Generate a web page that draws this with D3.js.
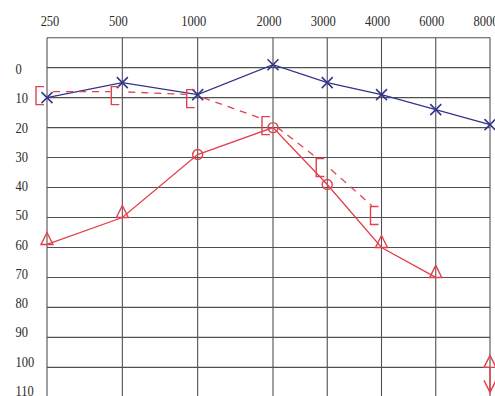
<!DOCTYPE html>
<html>
<head>
<meta charset="utf-8">
<script src="https://cdn.jsdelivr.net/npm/d3@7"></script>
<style>
  html, body { margin: 0; padding: 0; background: #fff; }
  svg { display: block; }
</style>
</head>
<body>
<svg id="chart" width="495" height="396"></svg>
<script>
// Frequencies (Hz) along the top and hearing levels (dB HL) down the side
const frequencies = ["250", "500", "1000", "2000", "3000", "4000", "6000", "8000"];
const levelTicks = [0, 10, 20, 30, 40, 50, 60, 70, 80, 90, 100, 110];
const gridLevels = [-10, 0, 10, 20, 30, 40, 50, 60, 70, 80, 90, 100, 110];

// Left ear air conduction (X), 250–8000 Hz
const leftAir = [10, 5, 9, -1, 5, 9, 14, 19];
// Right ear air conduction, 250–6000 Hz, and the symbol used at each point
const rightAir = [59, 50, 29, 20, 39, 60, 70];
const rightAirSymbols = ["triangle", "triangle", "circle", "circle", "circle", "triangle", "triangle"];
// Right ear masked bone conduction ([), 250–4000 Hz
const rightBone = [8, 8, 9, 18, 32, 48];
// No response at the limit of the audiometer
const noResponseFreq = ["8000"];
const noResponseLevel = [100];

const blue = "#32348a";
const red = "#e2404c";
const gridColor = "#505050";
const textColor = "#2a2a2a";

const svg = d3.select("#chart");

// Octaves below 2 kHz are drawn wider than the 2–8 kHz half-octave steps
const xIdx = d3.scaleLinear().domain([0, 3, 7]).range([47, 273, 490]);
const x = f => xIdx(frequencies.indexOf(f));
const y = d3.scaleLinear().domain([-10, 110]).range([37.7, 397.3]);
// Tick text sits on a slightly tighter pitch than the ruled lines
const yText = d3.scaleLinear().domain([0, 100]).range([74, 366.5]);

// Grid
const grid = svg.append("g").attr("stroke", gridColor).attr("stroke-width", 1.1);
grid.selectAll("line.v").data(frequencies).join("line")
  .attr("class", "v")
  .attr("x1", d => x(d)).attr("x2", d => x(d))
  .attr("y1", y(-10)).attr("y2", y(110));
grid.selectAll("line.h").data(gridLevels).join("line")
  .attr("class", "h")
  .attr("x1", x(frequencies[0])).attr("x2", x(frequencies[frequencies.length - 1]))
  .attr("y1", d => y(d)).attr("y2", d => y(d));

// Axis text (serif, slightly tall)
const labelFont = "'Liberation Serif', 'DejaVu Serif', serif";
svg.append("g").selectAll("text").data(frequencies).join("text")
  .attr("transform", (d, i) => `translate(${x(d) + (i === 0 ? 3 : -4)},25.5) scale(1,1.14)`)
  .attr("text-anchor", "middle")
  .attr("font-family", labelFont).attr("font-size", 12.5)
  .attr("fill", textColor)
  .text(d => d);
svg.append("g").selectAll("text").data(levelTicks).join("text")
  .attr("transform", d => `translate(15.5,${yText(d)}) scale(1,1.1)`)
  .attr("text-anchor", "start")
  .attr("font-family", labelFont).attr("font-size", 12.5)
  .attr("fill", textColor)
  .text(d => d);

// Left ear air conduction: line and X markers
const leftPts = leftAir.map((v, i) => [x(frequencies[i]), y(v)]);
svg.append("path")
  .attr("d", d3.line()(leftPts))
  .attr("fill", "none").attr("stroke", blue).attr("stroke-width", 1.2);
const xs = 5.5;
svg.append("g").selectAll("path").data(leftPts).join("path")
  .attr("d", ([px, py]) => `M${px - xs},${py - xs}L${px + xs},${py + xs}M${px + xs},${py - xs}L${px - xs},${py + xs}`)
  .attr("fill", "none").attr("stroke", blue).attr("stroke-width", 1.5);

// Right ear bone conduction: dashed joins between brackets
const bonePts = rightBone.map((v, i) => [x(frequencies[i]) - 3, y(v)]);
const gap = 9;
const boneSegs = d3.pairs(bonePts).map(([a, b]) => {
  const dx = b[0] - a[0], dy = b[1] - a[1], len = Math.hypot(dx, dy);
  const ux = dx / len, uy = dy / len;
  return [[a[0] + ux * gap, a[1] + uy * gap], [b[0] - ux * gap, b[1] - uy * gap]];
});
svg.append("g").selectAll("path").data(boneSegs).join("path")
  .attr("d", d => d3.line()(d))
  .attr("fill", "none").attr("stroke", red).attr("stroke-width", 1.3)
  .attr("stroke-dasharray", "7,6");
svg.append("g").selectAll("path").data(rightBone).join("path")
  .attr("d", (v, i) => {
    const px = x(frequencies[i]), py = y(v) + 4;
    return `M${px - 3},${py - 9}L${px - 11},${py - 9}L${px - 11},${py + 9}L${px - 3},${py + 9}`;
  })
  .attr("fill", "none").attr("stroke", red).attr("stroke-width", 1.4);

// Right ear air conduction: line and symbols
const rightPts = rightAir.map((v, i) => [x(frequencies[i]), y(v)]);
svg.append("path")
  .attr("d", d3.line()(rightPts))
  .attr("fill", "none").attr("stroke", red).attr("stroke-width", 1.3);
const tri = (px, py) => `M${px - 6},${py}L${px},${py - 12}L${px + 6},${py}Z`;
svg.append("g").selectAll("path").data(rightPts).join("path")
  .attr("d", ([px, py], i) => rightAirSymbols[i] === "triangle"
    ? tri(px, py)
    : d3.arc()({ innerRadius: 0, outerRadius: 5, startAngle: 0, endAngle: 2 * Math.PI }))
  .attr("transform", ([px, py], i) => rightAirSymbols[i] === "circle" ? `translate(${px},${py})` : null)
  .attr("fill", "none").attr("stroke", red).attr("stroke-width", 1.4);

// No response: triangle with a downward arrow
const nr = svg.append("g").attr("fill", "none").attr("stroke", red).attr("stroke-width", 1.4);
noResponseFreq.forEach((f, i) => {
  const px = x(f), py = y(noResponseLevel[i]);
  nr.append("path").attr("d", tri(px, py));
  nr.append("path").attr("d", `M${px},${py}L${px},${py + 25}M${px - 6},${py + 13}L${px},${py + 25}L${px + 6},${py + 13}`);
});
</script>
</body>
</html>
